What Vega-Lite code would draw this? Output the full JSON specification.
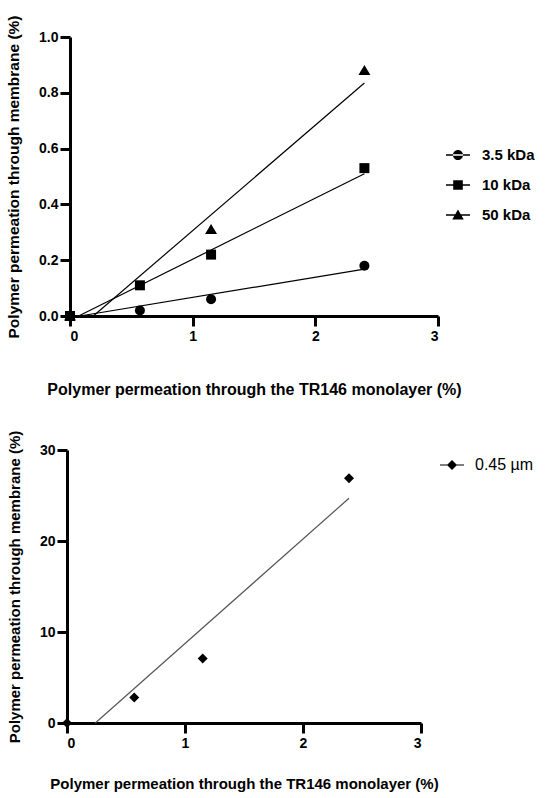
{
  "$schema": "https://vega.github.io/schema/vega-lite/v6.json",
  "background": "white",
  "padding": {"left": 6, "top": 15, "right": 5, "bottom": 5},
  "spacing": 33,
  "columns": 1,
  "config": {
    "font": "Liberation Sans",
    "view": {"stroke": null},
    "axis": {
      "domainColor": "black", "domainWidth": 3, "tickColor": "black", "tickWidth": 3, "tickSize": 10,
      "labelFont": "Liberation Sans", "labelFontWeight": "bold", "labelFontSize": 14, "labelColor": "black",
      "titleFont": "Liberation Sans", "titleFontWeight": "bold", "titleFontSize": 15.5, "titleColor": "black",
      "grid": false, "labelPadding": 3
    }
  },
  "datasets": {
    "kda_points": [
      {"series": "3.5 kDa", "x": 0, "y": 0},
      {"series": "3.5 kDa", "x": 0.57, "y": 0.02},
      {"series": "3.5 kDa", "x": 1.15, "y": 0.06},
      {"series": "3.5 kDa", "x": 2.4, "y": 0.18},
      {"series": "10 kDa", "x": 0, "y": 0},
      {"series": "10 kDa", "x": 0.57, "y": 0.11},
      {"series": "10 kDa", "x": 1.15, "y": 0.22},
      {"series": "10 kDa", "x": 2.4, "y": 0.53},
      {"series": "50 kDa", "x": 0, "y": 0},
      {"series": "50 kDa", "x": 1.15, "y": 0.31},
      {"series": "50 kDa", "x": 2.4, "y": 0.88}
    ],
    "kda_fits": [
      {"series": "3.5 kDa", "x": 0.08, "y": 0},
      {"series": "3.5 kDa", "x": 2.4, "y": 0.168},
      {"series": "10 kDa", "x": 0.07, "y": 0},
      {"series": "10 kDa", "x": 2.4, "y": 0.51},
      {"series": "50 kDa", "x": 0.19, "y": 0},
      {"series": "50 kDa", "x": 2.4, "y": 0.835}
    ],
    "um_points": [
      {"series": "0.45 µm", "x": 0, "y": 0},
      {"series": "0.45 µm", "x": 0.57, "y": 2.8},
      {"series": "0.45 µm", "x": 1.15, "y": 7.1},
      {"series": "0.45 µm", "x": 2.39, "y": 26.9}
    ],
    "um_fits": [
      {"series": "0.45 µm", "x": 0.24, "y": 0},
      {"series": "0.45 µm", "x": 2.39, "y": 24.7}
    ]
  },
  "concat": [
    {
      "width": 368,
      "height": 279,
      "resolve": {"scale": {"shape": "independent"}, "legend": {"shape": "independent"}},
      "layer": [
        {
          "data": {"name": "kda_fits"},
          "mark": {"type": "line", "color": "black", "strokeWidth": 1.2, "clip": false},
          "encoding": {
            "x": {"field": "x", "type": "quantitative", "scale": {"domain": [0, 3], "nice": false},
              "axis": {"values": [0, 1, 2, 3], "format": "d", "title": "Polymer permeation through the TR146 monolayer (%)", "titleFontSize": 16, "titlePadding": 38}},
            "y": {"field": "y", "type": "quantitative", "scale": {"domain": [0, 1], "nice": false},
              "axis": {"values": [0, 0.2, 0.4, 0.6, 0.8, 1.0], "format": ".1f", "title": "Polymer permeation through membrane (%)", "titlePadding": 17, "labelPadding": 2}},
            "detail": {"field": "series"}
          }
        },
        {
          "data": {"name": "kda_points"},
          "mark": {"type": "point", "filled": true, "color": "black", "opacity": 1, "size": 100, "clip": false},
          "encoding": {
            "x": {"field": "x", "type": "quantitative"},
            "y": {"field": "y", "type": "quantitative"},
            "shape": {"field": "series", "type": "nominal", "legend": null,
              "scale": {"domain": ["3.5 kDa", "10 kDa", "50 kDa"], "range": ["circle", "square", "M0,-1.1 L1.2,0.9 L-1.2,0.9 Z"]}}
          }
        },
        {
          "data": {"name": "kda_points"},
          "mark": {"type": "point", "filled": true, "color": "black", "opacity": 0, "size": 10},
          "encoding": {
            "x": {"field": "x", "type": "quantitative"},
            "y": {"field": "y", "type": "quantitative"},
            "shape": {"field": "series", "type": "nominal",
              "scale": {"domain": ["3.5 kDa", "10 kDa", "50 kDa"],
                "range": [
                  "M-1,-0.06 L1,-0.06 L1,0.06 L-1,0.06 Z M-0.42,0 A0.42,0.42 0 1,0 0.42,0 A0.42,0.42 0 1,0 -0.42,0 Z",
                  "M-1,-0.06 L1,-0.06 L1,0.06 L-1,0.06 Z M-0.4,-0.4 L0.4,-0.4 L0.4,0.4 L-0.4,0.4 Z",
                  "M-1,-0.06 L1,-0.06 L1,0.06 L-1,0.06 Z M0,-0.45 L0.48,0.38 L-0.48,0.38 Z"
                ]},
              "legend": {
                "title": null, "orient": "none", "legendX": 376, "legendY": 106,
                "symbolSize": 576, "symbolOpacity": 1, "symbolFillColor": "black", "symbolStrokeWidth": 0,
                "labelFont": "Liberation Sans", "labelFontWeight": "bold", "labelFontSize": 15, "labelColor": "black",
                "labelOffset": 12, "rowPadding": 10
              }
            }
          }
        }
      ]
    },
    {
      "width": 354,
      "height": 273,
      "resolve": {"scale": {"shape": "independent"}, "legend": {"shape": "independent"}},
      "layer": [
        {
          "data": {"name": "um_fits"},
          "mark": {"type": "line", "color": "#555555", "strokeWidth": 1.2, "clip": false},
          "encoding": {
            "x": {"field": "x", "type": "quantitative", "scale": {"domain": [0, 3], "nice": false, "range": [-3, 351]},
              "axis": {"values": [0, 1, 2, 3], "format": "d", "title": "Polymer permeation through the TR146 monolayer (%)", "titleFontSize": 15, "titlePadding": 26}},
            "y": {"field": "y", "type": "quantitative", "scale": {"domain": [0, 30], "nice": false},
              "axis": {"values": [0, 10, 20, 30], "offset": 3, "title": "Polymer permeation through membrane (%)", "titleFontSize": 15, "titlePadding": 17, "labelPadding": 2}}
          }
        },
        {
          "data": {"name": "um_points"},
          "mark": {"type": "point", "filled": true, "color": "black", "opacity": 1, "size": 100, "shape": "diamond", "clip": false},
          "encoding": {
            "x": {"field": "x", "type": "quantitative"},
            "y": {"field": "y", "type": "quantitative"}
          }
        },
        {
          "data": {"name": "um_points"},
          "mark": {"type": "point", "filled": true, "color": "black", "opacity": 0, "size": 10},
          "encoding": {
            "x": {"field": "x", "type": "quantitative"},
            "y": {"field": "y", "type": "quantitative"},
            "shape": {"field": "series", "type": "nominal",
              "scale": {"domain": ["0.45 µm"],
                "range": ["M-1,-0.05 L1,-0.05 L1,0.05 L-1,0.05 Z M0,-0.42 L0.42,0 L0,0.42 L-0.42,0 Z"]},
              "legend": {
                "title": null, "orient": "none", "legendX": 370, "legendY": 3,
                "symbolSize": 576, "symbolOpacity": 1, "symbolFillColor": "black", "symbolStrokeWidth": 0,
                "labelFont": "Liberation Sans", "labelFontWeight": "normal", "labelFontSize": 16, "labelColor": "black",
                "labelOffset": 11
              }
            }
          }
        }
      ]
    }
  ]
}
